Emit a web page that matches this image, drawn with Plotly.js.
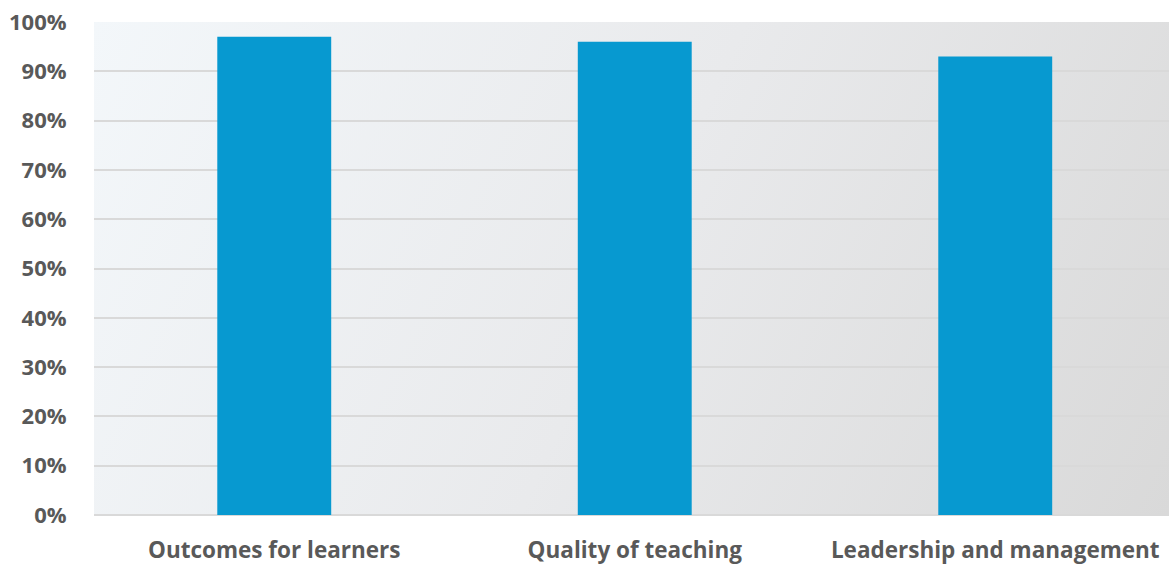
<!DOCTYPE html>
<html>
<head>
<meta charset="utf-8">
<script src="https://cdn.plot.ly/plotly-3.0.1.min.js"></script>
<style>
html,body{margin:0;padding:0;background:#fff;overflow:hidden;}
#chart{width:1169px;height:566px;}
</style>
</head>
<body>
<div id="chart"></div>
<script>
const categories = ["Outcomes for learners", "Quality of teaching", "Leadership and management"];
const values = [0.97, 0.96, 0.93];
const tickValues = [0, 0.1, 0.2, 0.3, 0.4, 0.5, 0.6, 0.7, 0.8, 0.9, 1.0];
const tickLabels = ["0%", "10%", "20%", "30%", "40%", "50%", "60%", "70%", "80%", "90%", "100%"];

// gradient background for plot area
const cv = document.createElement('canvas');
cv.width = 1075; cv.height = 493;
const ctx = cv.getContext('2d');
const g = ctx.createLinearGradient(0, 0, 1075, 493);
g.addColorStop(0, '#F3F7FA');
g.addColorStop(0.5, '#E9EAEC');
g.addColorStop(1, '#D9D9D9');
ctx.fillStyle = g;
ctx.fillRect(0, 0, 1075, 493);
const bgURL = cv.toDataURL('image/png');

const textColor = '#595959';
const fontFam = '"Open Sans", "Liberation Sans", sans-serif';

const trace = {
  type: 'bar',
  x: categories,
  y: values,
  marker: {color: '#0799D0', line: {width: 0}},
  hoverinfo: 'none'
};

const layout = {
  width: 1169,
  height: 566,
  margin: {l: 94, r: 0, t: 22, b: 51},
  paper_bgcolor: '#ffffff',
  plot_bgcolor: 'rgba(0,0,0,0)',
  bargap: 0.684,
  showlegend: false,
  xaxis: {
    type: 'category',
    range: [-0.5, 2.482],
    showgrid: false,
    zeroline: false,
    showline: false,
    ticks: 'outside',
    ticklen: 15,
    tickcolor: 'rgba(0,0,0,0)',
    tickfont: {family: fontFam, size: 22.5, color: textColor, weight: 700},
    fixedrange: true
  },
  yaxis: {
    range: [0, 1.0],
    tickvals: tickValues,
    ticktext: tickLabels,
    showgrid: true,
    gridcolor: '#D9D9D9',
    gridwidth: 2,
    zeroline: true,
    zerolinecolor: '#D9D9D9',
    zerolinewidth: 2,
    showline: false,
    ticks: 'outside',
    ticklen: 22,
    tickcolor: 'rgba(0,0,0,0)',
    tickfont: {family: fontFam, size: 22, color: textColor, weight: 700},
    fixedrange: true
  },
  images: [{
    source: bgURL,
    xref: 'paper', yref: 'paper',
    x: 0, y: 1, sizex: 1, sizey: 1,
    xanchor: 'left', yanchor: 'top',
    sizing: 'stretch',
    layer: 'below'
  }]
};

Plotly.newPlot('chart', [trace], layout, {displayModeBar: false, staticPlot: true});
</script>
</body>
</html>
